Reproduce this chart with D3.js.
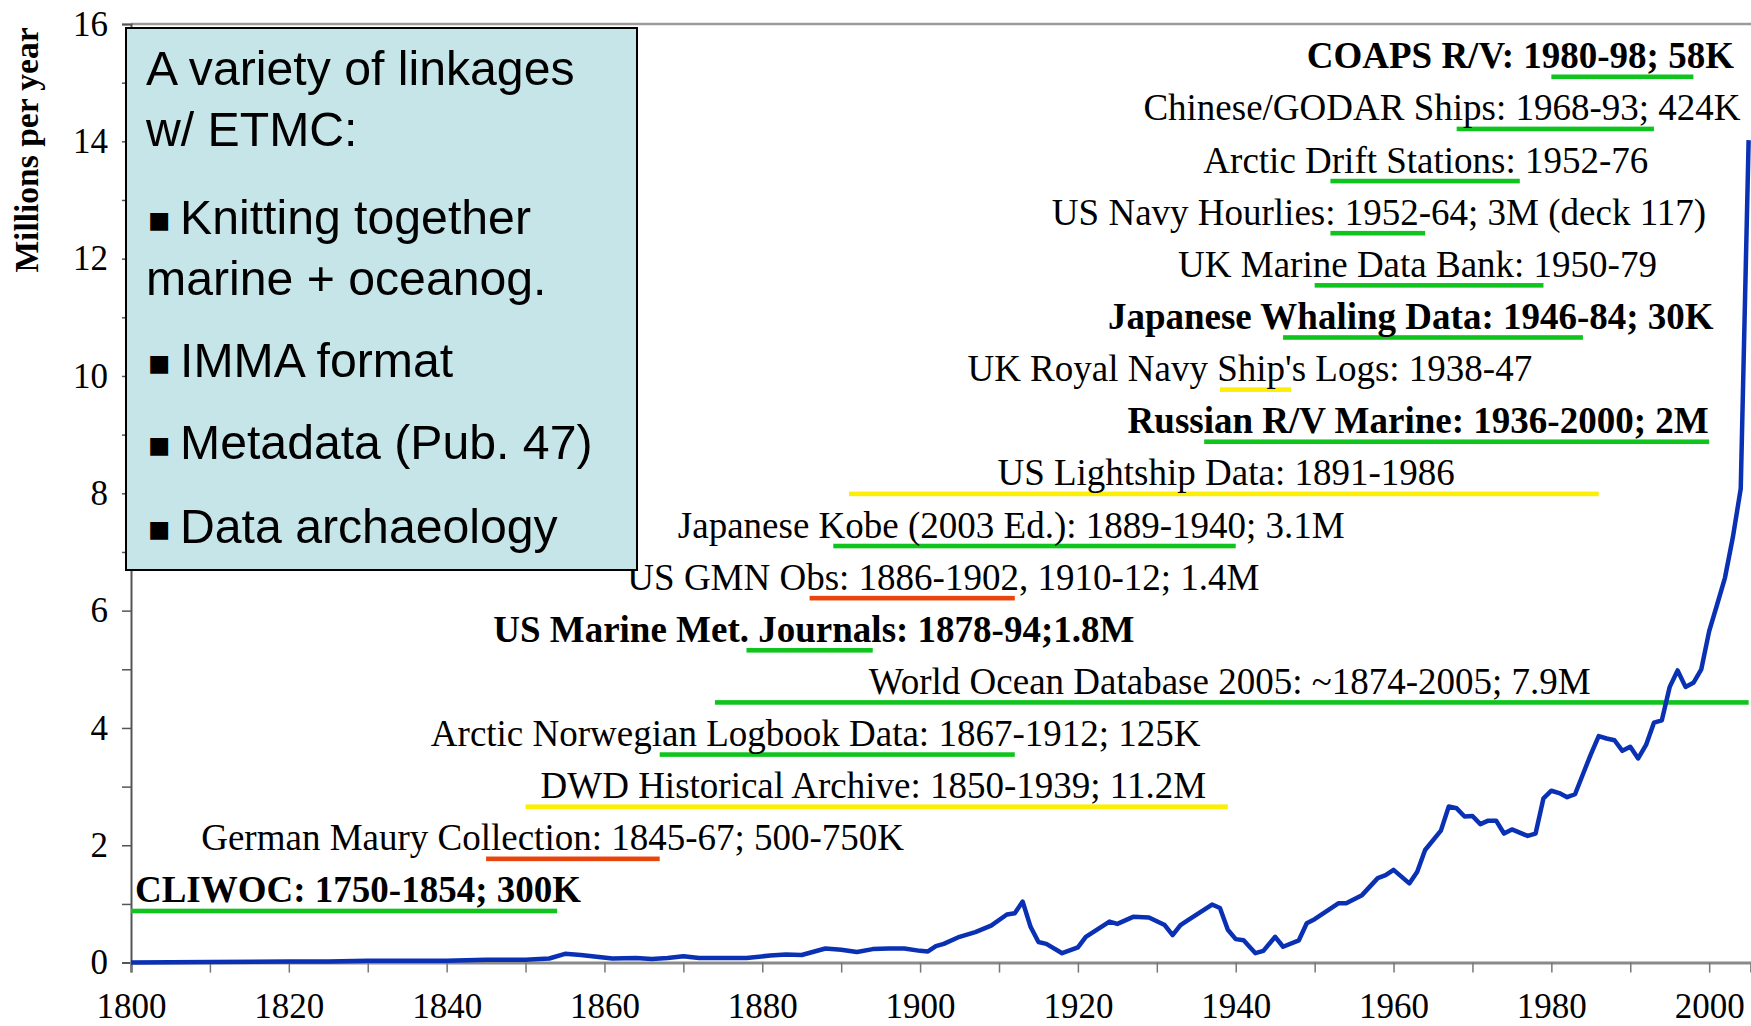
<!DOCTYPE html>
<html>
<head>
<meta charset="utf-8">
<script src="https://cdn.jsdelivr.net/npm/d3@7"></script>
<style>
  body { margin: 0; background: #fff; }
  svg { display: block; }
</style>
</head>
<body>
<svg id="chart" width="1751" height="1026"></svg>
<script>
// yearly marine report counts (millions per year)
var years = [1800, 1810, 1820, 1825, 1830, 1835, 1840, 1845, 1850, 1853, 1855, 1857, 1859, 1861,
  1864, 1866, 1868, 1870, 1872, 1875, 1878, 1881, 1883, 1885, 1888, 1890, 1892, 1894, 1896,
  1898, 1900, 1901, 1902, 1903, 1905, 1907, 1909, 1911, 1912, 1913, 1914, 1915, 1916, 1918,
  1920, 1921, 1924, 1925, 1927, 1929, 1931, 1932, 1933, 1934, 1937, 1938, 1939, 1940, 1941,
  1942.5, 1943.5, 1945, 1946, 1948, 1949, 1950, 1953, 1954, 1956, 1958, 1959, 1960, 1962,
  1963, 1964, 1966, 1967, 1968, 1969, 1970, 1971, 1972, 1973, 1974, 1975, 1977, 1978, 1979,
  1980, 1981, 1982, 1983, 1984, 1985, 1986, 1987, 1988, 1989, 1990, 1991, 1992, 1993, 1994,
  1995, 1996, 1997, 1998, 1999, 2000, 2001, 2002, 2003, 2004, 2005];
var reports = [0.00, 0.01, 0.02, 0.02, 0.03, 0.03, 0.03, 0.05, 0.05, 0.07, 0.15, 0.13, 0.10, 0.07,
  0.08, 0.06, 0.08, 0.11, 0.08, 0.08, 0.08, 0.12, 0.14, 0.13, 0.24, 0.22, 0.18, 0.23, 0.24,
  0.24, 0.20, 0.19, 0.28, 0.32, 0.44, 0.52, 0.63, 0.82, 0.84, 1.04, 0.61, 0.35, 0.32, 0.16,
  0.26, 0.44, 0.70, 0.66, 0.78, 0.77, 0.64, 0.47, 0.64, 0.73, 0.99, 0.93, 0.56, 0.40, 0.38,
  0.16, 0.20, 0.44, 0.27, 0.38, 0.67, 0.74, 1.01, 1.01, 1.15, 1.44, 1.49, 1.58, 1.35,
  1.55, 1.92, 2.25, 2.66, 2.63, 2.49, 2.50, 2.36, 2.42, 2.42, 2.20, 2.27, 2.16, 2.20, 2.80,
  2.93, 2.89, 2.82, 2.87, 3.21, 3.55, 3.86, 3.82, 3.79, 3.61, 3.68, 3.48, 3.71, 4.09, 4.13,
  4.70, 4.98, 4.70, 4.77, 5.00, 5.65, 6.10, 6.56, 7.25, 8.08, 14.02];

// data sources, top row first
var sources = [
  "COAPS R/V: 1980-98; 58K",
  "Chinese/GODAR Ships: 1968-93; 424K",
  "Arctic Drift Stations: 1952-76",
  "US Navy Hourlies: 1952-64; 3M (deck 117)",
  "UK Marine Data Bank: 1950-79",
  "Japanese Whaling Data: 1946-84; 30K",
  "UK Royal Navy Ship's Logs: 1938-47",
  "Russian R/V Marine: 1936-2000; 2M",
  "US Lightship Data: 1891-1986",
  "Japanese Kobe (2003 Ed.): 1889-1940; 3.1M",
  "US GMN Obs: 1886-1902, 1910-12; 1.4M",
  "US Marine Met. Journals: 1878-94;1.8M",
  "World Ocean Database 2005: ~1874-2005; 7.9M",
  "Arctic Norwegian Logbook Data: 1867-1912; 125K",
  "DWD Historical Archive: 1850-1939; 11.2M",
  "German Maury Collection: 1845-67; 500-750K",
  "CLIWOC: 1750-1854; 300K"
];
var startYears = [1980, 1968, 1952, 1952, 1950, 1946, 1938, 1936, 1891, 1889, 1886, 1878, 1874, 1867, 1850, 1845, 1750];
var endYears = [1998, 1993, 1976, 1964, 1979, 1984, 1947, 2000, 1986, 1940, 1912, 1894, 2005, 1912, 1939, 1867, 1854];
var spanGroup = ["A", "A", "A", "A", "A", "A", "C", "A", "C", "A", "B", "A", "A", "A", "C", "B", "A"];
var featured = [true, false, false, false, false, true, false, true, false, false, false, true, false, false, false, false, true];

var yTicks = d3.range(0, 17, 1);
var xTicks = d3.range(1800, 2001, 10);

var boxLines = ["A variety of linkages", "w/ ETMC:", "\u25AA Knitting together", "marine + oceanog.",
  "\u25AA IMMA format", "\u25AA Metadata (Pub. 47)", "\u25AA Data archaeology"];

// where each label's text begins (in years along the x axis)
var labelStart = [1949.0, 1928.3, 1935.9, 1916.7, 1932.7, 1923.8, 1906.0, 1926.3, 1909.8,
  1869.3, 1862.9, 1845.9, 1893.5, 1838.0, 1851.9, 1808.9, 1800.5];

var serif = "'Liberation Serif', 'Times New Roman', serif";
var sans = "'Liberation Sans', Arial, 'DejaVu Sans', sans-serif";

var svg = d3.select("#chart");
var width = 1751, height = 1026;
var plotLeft = 131, plotTop = 24, plotBottom = 962.6;

var x = d3.scaleLinear().domain([1800, 2005.3]).range([plotLeft, width]);
var y = d3.scaleLinear().domain([0, 16]).range([plotBottom, plotTop]);
var row = d3.scalePoint().domain(d3.range(sources.length)).range([y(15.1), y(0.88)]);
var colour = d3.scaleOrdinal().domain(["A", "B", "C"]).range(["#10c41e", "#e8440c", "#fcee05"]);

// top frame line
svg.append("line")
  .attr("x1", plotLeft).attr("x2", width)
  .attr("y1", plotTop).attr("y2", plotTop)
  .attr("stroke", "#9a9a9a").attr("stroke-width", 2.5);

// y axis
var yAxis = svg.append("g")
  .attr("transform", "translate(" + plotLeft + ",0)")
  .call(d3.axisLeft(y).tickValues(yTicks).tickSize(9).tickPadding(14)
    .tickFormat(function (d) { return d % 2 === 0 ? d : ""; }));
yAxis.select(".domain").attr("stroke", "#555").attr("stroke-width", 2);
yAxis.selectAll(".tick line").attr("stroke", "#555").attr("stroke-width", 1.5);
yAxis.selectAll(".tick text")
  .attr("font-family", serif).attr("font-size", "35px").attr("fill", "#000");

// x axis
var xAxis = svg.append("g")
  .attr("transform", "translate(0," + plotBottom + ")")
  .call(d3.axisBottom(x).tickValues(xTicks).tickSize(10).tickPadding(21)
    .tickFormat(function (d) { return d % 20 === 0 ? d : ""; }));
xAxis.select(".domain").attr("stroke", "#8a8a8a").attr("stroke-width", 3);
xAxis.selectAll(".tick line").attr("stroke", "#777").attr("stroke-width", 1.5);
xAxis.selectAll(".tick text")
  .attr("font-family", serif).attr("font-size", "35px").attr("fill", "#000");

// y axis title
svg.append("text")
  .attr("transform", "translate(38,150) rotate(-90)")
  .attr("text-anchor", "middle")
  .attr("font-family", serif)
  .attr("font-weight", "bold")
  .attr("font-size", "33.5px")
  .text("Millions per year");

// source rows: coloured year spans and labels
var rows = svg.append("g");
rows.selectAll("rect")
  .data(sources)
  .enter()
  .append("rect")
  .attr("x", function (d, i) { return x(Math.max(startYears[i], 1800)); })
  .attr("y", function (d, i) { return row(i) - 2.3; })
  .attr("width", function (d, i) {
    return x(Math.min(endYears[i], 2005.3)) - x(Math.max(startYears[i], 1800));
  })
  .attr("height", 4.6)
  .attr("fill", function (d, i) { return colour(spanGroup[i]); });

rows.selectAll("text")
  .data(sources)
  .enter()
  .append("text")
  .attr("x", function (d, i) { return x(labelStart[i]); })
  .attr("y", function (d, i) { return row(i) - 8.5; })
  .attr("font-family", serif)
  .attr("font-size", "37px")
  .attr("font-weight", function (d, i) { return featured[i] ? "bold" : "normal"; })
  .attr("fill", "#000")
  .text(function (d) { return d; });

// report curve
var line = d3.line()
  .x(function (d, i) { return x(years[i]); })
  .y(function (d) { return y(d); });
svg.append("path")
  .datum(reports)
  .attr("d", line)
  .attr("fill", "none")
  .attr("stroke", "#0a31b3")
  .attr("stroke-width", 4.5)
  .attr("stroke-linejoin", "round");

// text box
svg.append("rect")
  .attr("x", 126).attr("y", 28)
  .attr("width", 511).attr("height", 542)
  .attr("fill", "#c6e5e9")
  .attr("stroke", "#000")
  .attr("stroke-width", 2);

var boxBase = [85, 146, 234, 295, 377, 459, 543];
var box = svg.append("g");
boxLines.forEach(function (t, i) {
  var txt = box.append("text")
    .attr("y", boxBase[i])
    .attr("font-family", sans)
    .attr("font-size", "48.2px")
    .attr("fill", "#000");
  if (t.charAt(0) === "\u25AA") {
    txt.append("tspan").attr("x", 147).attr("font-family", "'DejaVu Sans', sans-serif")
      .attr("font-size", "36px").attr("dy", -3).text("\u25AA");
    txt.append("tspan").attr("x", 180).attr("dy", 3).text(t.slice(2));
  } else {
    txt.attr("x", 146).text(t);
  }
});
</script>
</body>
</html>
